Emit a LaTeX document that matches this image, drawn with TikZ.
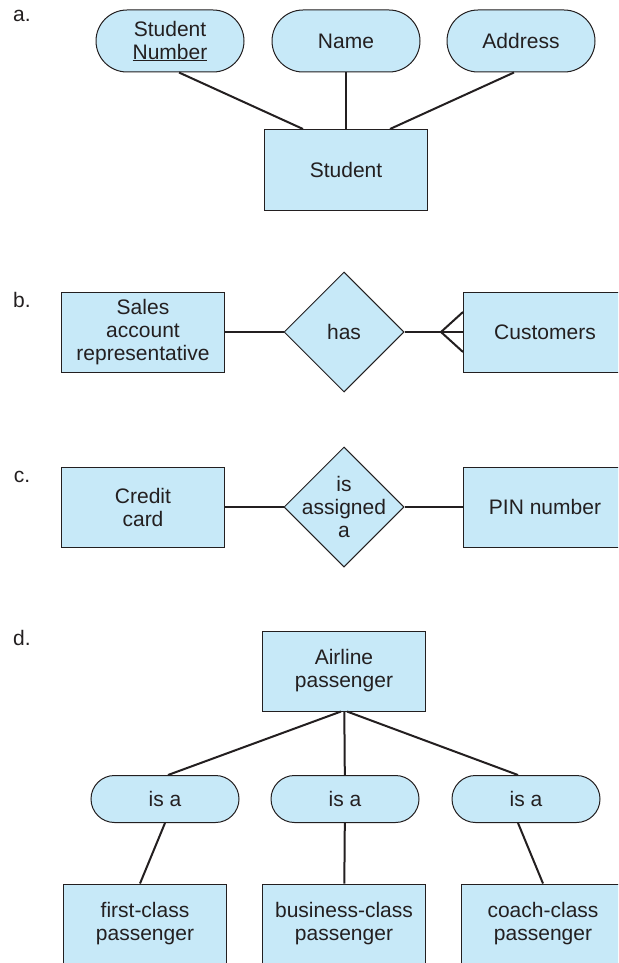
\documentclass[tikz,border=0pt]{standalone}
\usepackage{fontspec}
\setmainfont{Liberation Sans}
\usepackage{tikz}
\usetikzlibrary{shapes.geometric,shapes.misc}
\definecolor{erblue}{RGB}{199,233,248}
\definecolor{erline}{RGB}{35,31,32}
\tikzset{
  ent/.style={rectangle,draw=erline,fill=erblue,line width=1pt,minimum width=163pt,minimum height=80pt,align=center,inner sep=0pt},
  attr/.style={rounded rectangle,draw=erline,fill=erblue,line width=1pt,minimum width=148pt,minimum height=#1,align=center,inner sep=0pt},
  rel/.style={diamond,draw=erline,fill=erblue,line width=1pt,minimum width=120pt,minimum height=120pt,inner sep=0pt},
  conn/.style={draw=erline,line width=2pt},
  tag/.style={align=center,text=erline,fill=none,draw=none}
}
\begin{document}
\begin{tikzpicture}[x=1pt,y=-1pt,font=\fontsize{21}{23}\selectfont,text=erline]
\useasboundingbox (0,0) rectangle (618,963);
\clip (0,0) rectangle (618,963);
\node [tag] (la) at (22,16) {a.};
\node [attr=62pt] (num) at (170,41) {Student\\\underline{Number}};
\node [attr=62pt] (name) at (346,41) {Name};
\node [attr=62pt] (addr) at (521,41) {Address};
\node [ent,minimum height=81pt] (stu) at (346,170) {Student};
\draw [conn] ([xshift=9pt]num.south) -- ([xshift=-43pt]stu.north);
\draw [conn] (name) -- (stu);
\draw [conn] ([xshift=-7pt]addr.south) -- ([xshift=44pt]stu.north);

\node [tag] (lb) at (22,300) {b.};
\node [ent] (sales) at (143,332) {Sales\\account\\representative};
\node [rel,label={[tag]center:has}] (has) at (344,332) {};
\node [ent] (cust) at (545,332) {Customers};
\coordinate (crow) at (441,332);
\draw [conn] (sales) -- (has);
\draw [conn] (has) -- (cust);
\draw [conn] ([yshift=20pt]cust.west) -- (crow) -- ([yshift=-20pt]cust.west);

\node [tag] (lc) at (22,477) {c.};
\node [ent] (card) at (143,507) {Credit\\card};
\node [rel,label={[tag]center:is\\assigned\\a}] (asg) at (344,507) {};
\node [ent] (pin) at (545,507) {PIN number};
\draw [conn] (card) -- (asg);
\draw [conn] (asg) -- (pin);

\node [tag] (ld) at (22,638) {d.};
\node [ent] (air) at (344,671) {Airline\\passenger};
\node [attr=47pt] (isa1) at (165,799) {is a};
\node [attr=47pt] (isa2) at (345,799) {is a};
\node [attr=47pt] (isa3) at (526,799) {is a};
\node [ent] (first) at (145,924) {first-class\\passenger};
\node [ent] (bus) at (344,924) {business-class\\passenger};
\node [ent] (coach) at (543,924) {coach-class\\passenger};
\draw [conn] ([xshift=-3pt]air.south) -- ([xshift=3pt]isa1.north);
\draw [conn] (air) -- (isa2);
\draw [conn] ([xshift=3pt]air.south) -- ([xshift=-8pt]isa3.north);
\draw [conn] (isa1.south) -- ([xshift=-5pt]first.north);
\draw [conn] (isa2) -- (bus);
\draw [conn] ([xshift=-8pt]isa3.south) -- (coach.north);
\end{tikzpicture}
\end{document}
